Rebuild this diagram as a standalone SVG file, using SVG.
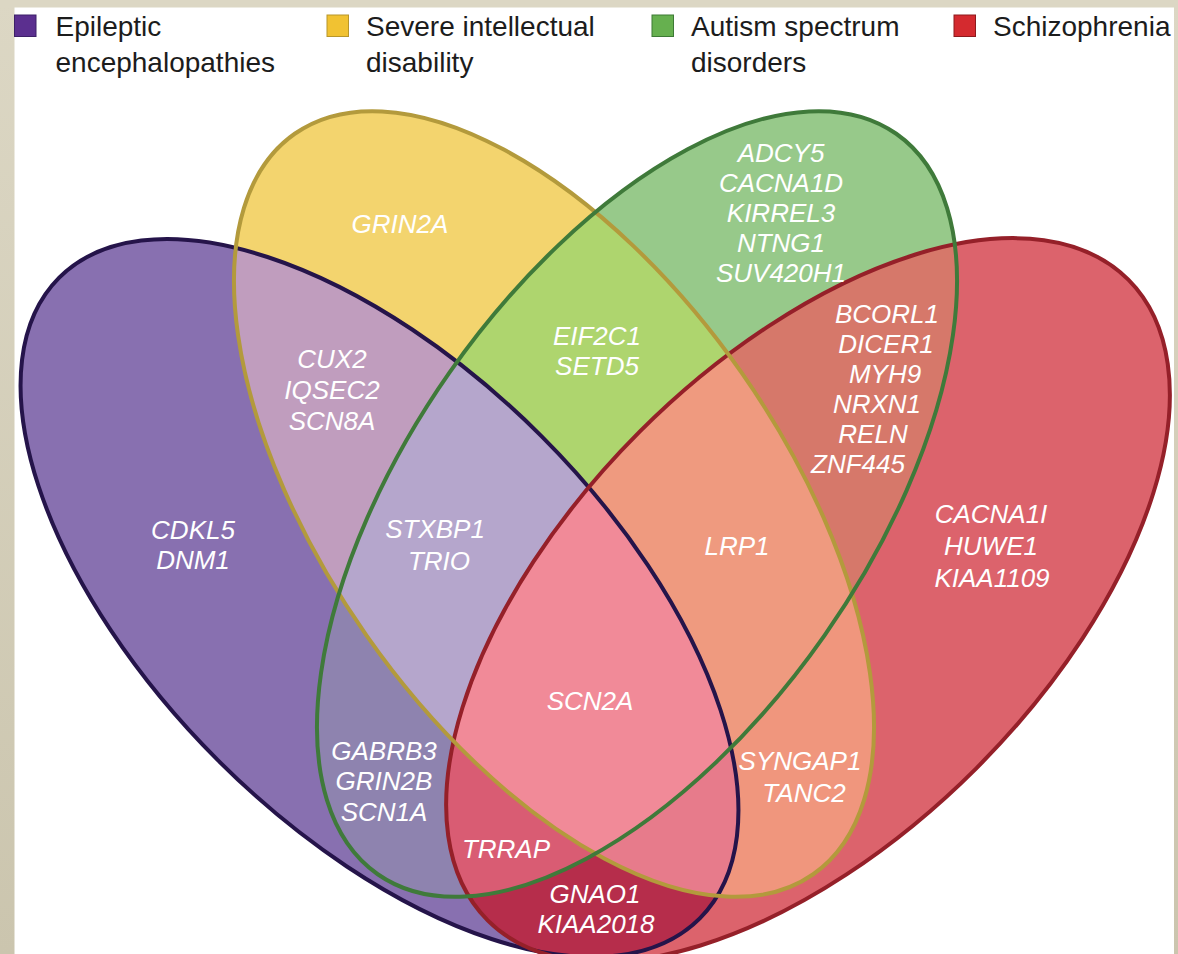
<svg xmlns="http://www.w3.org/2000/svg" xmlns:xlink="http://www.w3.org/1999/xlink" width="1178" height="954" viewBox="0 0 1178 954">
  <style>
    .gene { font-family: "Liberation Sans", Arial, Helvetica, sans-serif; font-style: italic; font-size: 26px; fill: #ffffff; text-anchor: middle; }
    .leg { font-family: "Liberation Sans", Arial, Helvetica, sans-serif; font-size: 28px; fill: #1c1c1c; }
    .out { fill: none; stroke-width: 4; }
  </style>
  <defs>
    <linearGradient id="beige" x1="0" y1="0" x2="0" y2="1">
      <stop offset="0" stop-color="#dcd7c4"/>
      <stop offset="1" stop-color="#cbc5ae"/>
    </linearGradient>
    <ellipse id="eP" cx="379.5" cy="598" rx="453" ry="229" transform="rotate(45 379.5 598)"/>
    <ellipse id="eY" cx="554" cy="504" rx="452" ry="229" transform="rotate(55 554 504)"/>
    <ellipse id="eG" cx="637" cy="504" rx="452" ry="229" transform="rotate(-55 637 504)"/>
    <ellipse id="eR" cx="808" cy="600" rx="453" ry="238" transform="rotate(-45 808 600)"/>
    <clipPath id="cP"><use href="#eP"/></clipPath>
    <clipPath id="cY"><use href="#eY"/></clipPath>
    <clipPath id="cG"><use href="#eG"/></clipPath>
    <clipPath id="cR"><use href="#eR"/></clipPath>
  </defs>

  <rect x="0" y="0" width="1178" height="954" fill="#ffffff"/>
  <rect x="0" y="0" width="14.5" height="954" fill="url(#beige)"/>
  <rect x="0" y="0" width="1178" height="7.5" fill="#dcd7c4"/>
  <rect x="1174" y="0" width="4" height="954" fill="url(#beige)"/>

  <g id="regions">
    <use href="#eP" fill="#8870b0"/>
    <use href="#eY" fill="#f3d46e"/>
    <use href="#eG" fill="#97c98a"/>
    <use href="#eR" fill="#dc636c"/>
    <g clip-path="url(#cP)">
      <use href="#eY" fill="#c09dbe"/>
      <use href="#eG" fill="#8e83af"/>
      <use href="#eR" fill="#b62d4b"/>
    </g>
    <g clip-path="url(#cY)">
      <use href="#eG" fill="#aed56e"/>
      <use href="#eR" fill="#f0967d"/>
    </g>
    <g clip-path="url(#cG)">
      <use href="#eR" fill="#d6786a"/>
    </g>
    <g clip-path="url(#cP)">
      <g clip-path="url(#cY)">
        <use href="#eG" fill="#b5a6cc"/>
        <use href="#eR" fill="#e77b8b"/>
      </g>
      <g clip-path="url(#cG)">
        <use href="#eR" fill="#d95c73"/>
      </g>
    </g>
    <g clip-path="url(#cY)">
      <g clip-path="url(#cG)">
        <use href="#eR" fill="#ef9a7f"/>
      </g>
    </g>
    <g clip-path="url(#cP)">
      <g clip-path="url(#cY)">
        <g clip-path="url(#cG)">
          <use href="#eR" fill="#f18a98"/>
        </g>
      </g>
    </g>
  </g>

  <g id="set-epileptic"><use href="#eP" class="out" stroke="#25144a"/></g>
  <g id="set-schizophrenia"><use href="#eR" class="out" stroke="#952029"/></g>
  <g id="set-intellectual"><use href="#eY" class="out" stroke="#b39a3c"/></g>
  <g id="set-autism"><use href="#eG" class="out" stroke="#3f7a3a" stroke-width="4.5"/></g>

  <g id="legend">
    <g id="leg-epileptic">
      <rect x="14.5" y="15" width="21.5" height="21.5" fill="#5b2f8f" stroke="#3d2068" stroke-width="1"/>
      <text class="leg" x="55.5" y="36">Epileptic</text>
      <text class="leg" x="55.5" y="72">encephalopathies</text>
    </g>
    <g id="leg-intellectual">
      <rect x="327" y="15" width="21.5" height="21.5" fill="#f1c232" stroke="#b8962a" stroke-width="1"/>
      <text class="leg" x="366" y="36">Severe intellectual</text>
      <text class="leg" x="366" y="72">disability</text>
    </g>
    <g id="leg-autism">
      <rect x="652" y="15" width="21.5" height="21.5" fill="#66b04f" stroke="#3d7a35" stroke-width="1"/>
      <text class="leg" x="691" y="36">Autism spectrum</text>
      <text class="leg" x="691" y="72">disorders</text>
    </g>
    <g id="leg-schizophrenia">
      <rect x="954" y="15" width="21.5" height="21.5" fill="#d42a2f" stroke="#8d1a1d" stroke-width="1"/>
      <text class="leg" x="993" y="36">Schizophrenia</text>
    </g>
  </g>

  <g id="labels">
    <text class="gene" x="400" y="233">GRIN2A</text>
    <text class="gene" x="332" y="368">CUX2</text>
    <text class="gene" x="332" y="399">IQSEC2</text>
    <text class="gene" x="332" y="430">SCN8A</text>
    <text class="gene" x="193" y="539">CDKL5</text>
    <text class="gene" x="193" y="569">DNM1</text>
    <text class="gene" x="781" y="162">ADCY5</text>
    <text class="gene" x="781" y="192">CACNA1D</text>
    <text class="gene" x="781" y="222">KIRREL3</text>
    <text class="gene" x="781" y="252">NTNG1</text>
    <text class="gene" x="781" y="282">SUV420H1</text>
    <text class="gene" x="597" y="345">EIF2C1</text>
    <text class="gene" x="597" y="375">SETD5</text>
    <text class="gene" x="887" y="323">BCORL1</text>
    <text class="gene" x="886" y="353">DICER1</text>
    <text class="gene" x="885" y="383">MYH9</text>
    <text class="gene" x="877" y="413">NRXN1</text>
    <text class="gene" x="873" y="443">RELN</text>
    <text class="gene" x="858" y="473">ZNF445</text>
    <text class="gene" x="435" y="538">STXBP1</text>
    <text class="gene" x="439" y="570">TRIO</text>
    <text class="gene" x="737" y="555">LRP1</text>
    <text class="gene" x="991" y="523">CACNA1I</text>
    <text class="gene" x="991" y="555">HUWE1</text>
    <text class="gene" x="992" y="587">KIAA1109</text>
    <text class="gene" x="590" y="710">SCN2A</text>
    <text class="gene" x="384" y="760">GABRB3</text>
    <text class="gene" x="384" y="790">GRIN2B</text>
    <text class="gene" x="384" y="821">SCN1A</text>
    <text class="gene" x="506" y="858">TRRAP</text>
    <text class="gene" x="800" y="770">SYNGAP1</text>
    <text class="gene" x="804" y="802">TANC2</text>
    <text class="gene" x="595" y="903">GNAO1</text>
    <text class="gene" x="596" y="933">KIAA2018</text>
  </g>
</svg>
